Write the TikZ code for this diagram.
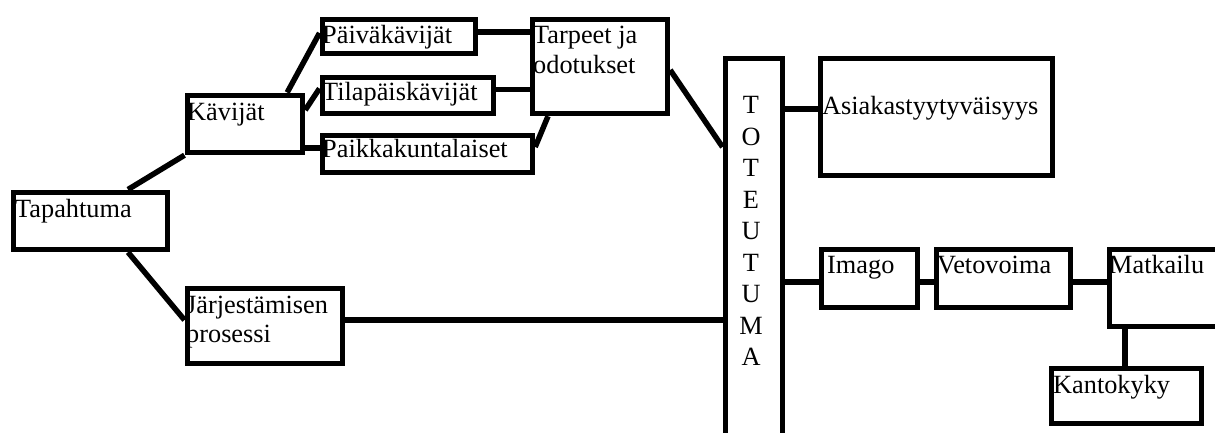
\documentclass[tikz,border=0pt]{standalone}
\usepackage{fontspec}
\setmainfont{Liberation Serif}
\usetikzlibrary{calc}
\begin{document}
\begin{tikzpicture}[x=1pt,y=-1pt,
  box/.style={draw=black,line width=5.7pt,rectangle,inner sep=0pt,anchor=north west},
  lbl/.style={inner sep=0pt,anchor=base west,font=\fontsize{26.3}{31}\selectfont},
  letter/.style={inner sep=0pt,anchor=base,font=\fontsize{26.3}{31}\selectfont},
  link/.style={line width=5.5pt,black}]
  \fill[white] (0,0) rectangle (1215,432);
  \useasboundingbox (0,0) rectangle (1215,432);

  % boxes
  \node[box,minimum width=154pt,minimum height=57pt] (tap) at (10.5,189.5) {};
  \node[box,minimum width=115pt,minimum height=57pt] (kav) at (184.5,92.5) {};
  \node[box,minimum width=153pt,minimum height=34pt] (pai) at (319.5,16.5) {};
  \node[box,minimum width=171pt,minimum height=36pt] (til) at (319.5,74.5) {};
  \node[box,minimum width=210pt,minimum height=37pt] (paik) at (319.5,132.5) {};
  \node[box,minimum width=135pt,minimum height=94pt] (tar) at (529.5,16.5) {};
  \node[box,minimum width=57pt,minimum height=400pt] (tot) at (722.5,55.5) {};
  \node[box,minimum width=232pt,minimum height=117pt] (asi) at (817.5,55.5) {};
  \node[box,minimum width=155pt,minimum height=75pt] (jar) at (184.5,285.5) {};
  \node[box,minimum width=96pt,minimum height=58pt] (ima) at (818.5,246.5) {};
  \node[box,minimum width=134pt,minimum height=58pt] (vet) at (933.5,246.5) {};
  \node[box,minimum width=130pt,minimum height=77pt] (mat) at (1106.5,246.5) {};
  \node[box,minimum width=150pt,minimum height=55pt] (kan) at (1048.5,365.5) {};

  % texts
  \node[lbl] (tap-t) at (15,217) {Tapahtuma};
  \node[lbl] (kav-t) at (187,120) {Kävijät};
  \node[lbl] (pai-t) at (322,43) {Päiväkävijät};
  \node[lbl] (til-t) at (322,100) {Tilapäiskävijät};
  \node[lbl] (paik-t) at (322,157) {Paikkakuntalaiset};
  \node[lbl] (tar-t1) at (533,43) {Tarpeet ja};
  \node[lbl] (tar-t2) at (533,73) {odotukset};
  \node[lbl] (asi-t) at (822,114) {Asiakastyytyväisyys};
  \node[lbl] (jar-t1) at (186,313) {Järjestämisen};
  \node[lbl] (jar-t2) at (186,342) {prosessi};
  \node[lbl] (ima-t) at (827,273) {Imago};
  \node[lbl] (vet-t) at (937,273) {Vetovoima};
  \node[lbl] (mat-t) at (1109,273) {Matkailu};
  \node[lbl] (kan-t) at (1053,393) {Kantokyky};
  \foreach \ch [count=\i] in {T,O,T,E,U,T,U,M,A}
    \node[letter] (tot-\i) at (751,{113.5+31.5*(\i-1)}) {\ch};

  % connectors
  \draw[link] ($(tap.north west)+(117.5,0)$) -- (kav.south west);
  \draw[link] ($(tap.south west)+(117.5,0)$) -- ($(jar.north west)+(0,34.5)$);
  \draw[link] ($(kav.north east)+(-18,0)$) -- ($(pai.north west)+(0,16.5)$);
  \draw[link] ($(kav.north east)+(0,17.5)$) -- ($(til.north west)+(0,14)$);
  \draw[link] ($(paik.north west)+(0,15.5)$) coordinate (pk) -- (pk -| kav.east);
  \draw[link] ($(pai.north east)+(0,15.5)$) coordinate (pt) -- (pt -| tar.west);
  \draw[link] ($(til.north east)+(0,15)$) coordinate (tt) -- (tt -| tar.west);
  \draw[link] ($(paik.north east)+(0,14.5)$) -- ($(tar.south west)+(18.5,0)$);
  \draw[link] ($(tar.north east)+(0,53.5)$) -- ($(tot.north west)+(0,91.5)$);
  \draw[link] ($(tot.north east)+(0,53.5)$) coordinate (ta) -- (ta -| asi.west);
  \draw[link] ($(jar.north east)+(0,34.5)$) coordinate (jt) -- (jt -| tot.west);
  \draw[link] ($(ima.north west)+(0,35.5)$) coordinate (ti) -- (ti -| tot.east);
  \draw[link] ($(ima.north east)+(0,35.5)$) coordinate (iv) -- (iv -| vet.west);
  \draw[link] ($(vet.north east)+(0,35.5)$) coordinate (vm) -- (vm -| mat.west);
  \draw[link] ($(mat.south west)+(18.5,0)$) coordinate (mk) -- (mk |- kan.north);
\end{tikzpicture}
\end{document}
